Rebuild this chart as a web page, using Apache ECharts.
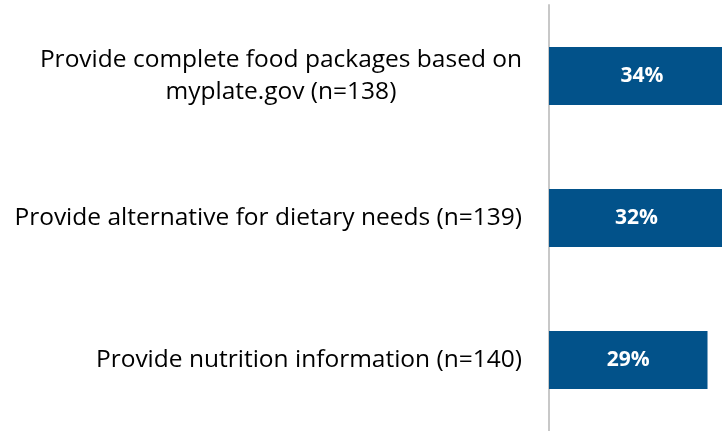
<!DOCTYPE html>
<html>
<head>
<meta charset="utf-8">
<script src="https://cdn.jsdelivr.net/npm/echarts@6/dist/echarts.min.js"></script>
<style>
html,body{margin:0;padding:0;background:#fff;}
#chart{width:722px;height:431px;}
</style>
</head>
<body>
<div id="chart"></div>
<script>
// 数据
var categories = [
    'Provide complete food packages based on\nmyplate.gov (n=138)',
    'Provide alternative for dietary needs (n=139)',
    'Provide nutrition information (n=140)'
];
var values = [34, 32, 29];

var chart = echarts.init(document.getElementById('chart'));

chart.setOption({
    animation: false,
    grid: {
        left: 549,
        top: 5,
        right: 0,
        height: 430
    },
    xAxis: {
        type: 'value',
        min: 0,
        max: 31.65,   // 右侧被裁切，34% 与 32% 超出画布
        show: false
    },
    yAxis: {
        type: 'category',
        inverse: true,
        data: categories,
        axisLine: {
            show: true,
            lineStyle: { color: '#c8c8c8', width: 2 }
        },
        axisTick: { show: false },
        axisLabel: {
            margin: 27,
            fontFamily: 'Open Sans',
            fontSize: 24.5,
            color: '#000',
            lineHeight: 32,
            formatter: function (v) {
                // 多行标签居中
                return v.split('\n').map(function (s) { return '{c|' + s + '}'; }).join('\n');
            },
            rich: {
                c: { align: 'center', fontFamily: 'Open Sans', fontSize: 24.5, color: '#000', lineHeight: 32 }
            }
        }
    },
    series: [{
        type: 'bar',
        data: values,
        clip: false,
        barCategoryGap: '59%',
        itemStyle: { color: '#02528a' },
        label: {
            show: true,
            position: 'inside',
            formatter: '{c}%',
            color: '#fff',
            fontFamily: 'Open Sans',
            fontWeight: 'bold',
            fontSize: 21
        }
    }]
});
</script>
</body>
</html>
